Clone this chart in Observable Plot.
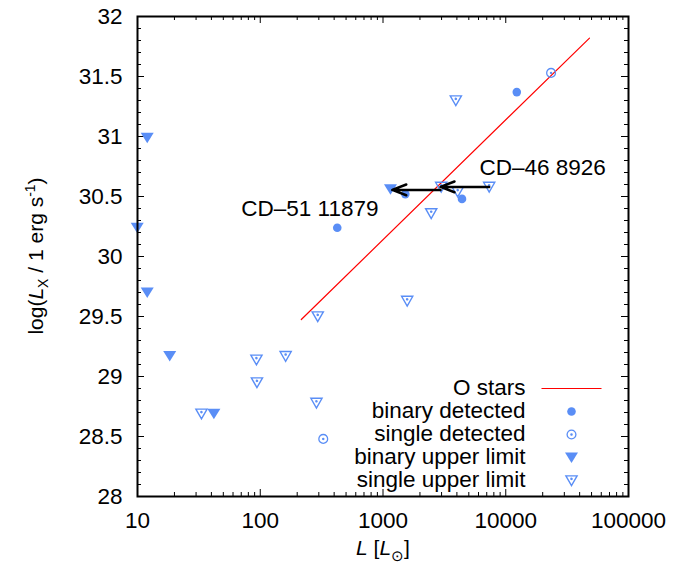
<!DOCTYPE html>
<html><head><meta charset="utf-8">
<script src="https://cdn.jsdelivr.net/npm/d3@7"></script>
<script src="https://cdn.jsdelivr.net/npm/@observablehq/plot@0.6"></script>
<style>body{margin:0;background:#fff} svg{display:block}</style>
</head><body><div id="chart"></div>
<script>
// ---- data ----
const binaryDetL  = [424, 1520, 4400, 12300];
const binaryDetLx = [30.24, 30.52, 30.48, 31.37];
const singleDetL  = [23400, 326];
const singleDetLx = [31.53, 28.48];
const binaryUpL   = [12.0, 9.95, 12.0, 18.3, 41.9, 1150];
const binaryUpLx  = [30.99, 30.24, 29.70, 29.17, 28.69, 30.56];
const singleUpL   = [2980, 4060, 7330, 2470, 3920, 294, 1574, 93.1, 161, 94, 33.2, 287];
const singleUpLx  = [30.58, 30.54, 30.58, 30.36, 31.30, 29.50, 29.63, 29.14, 29.17, 28.95, 28.69, 28.78];
const oStarsL  = [216, 48100];
const oStarsLx = [29.475, 31.82];
const arrowFromL = [7330, 2940];
const arrowToL   = [2940, 1190];
const arrowLx    = [30.58, 30.555];
const noteText = ["CD\u201351 11879", "CD\u201346 8926"];
const noteL    = [918, 6110];
const noteLx   = [30.40, 30.74];
const noteAnchor = ["end", "start"];
const xTickLabels = [10, 100, 1000, 10000, 100000];
const yTickLabels = [28, 28.5, 29, 29.5, 30, 30.5, 31, 31.5, 32];
const legendLabels = ["O stars", "binary detected", "single detected", "binary upper limit", "single upper limit"];

// ---- layout ----
const W = 697, H = 569, mL = 137, mR = 69, mT = 16, mB = 73;
const plotW = W - mL - mR, plotH = H - mT - mB;
const FONT = "'Liberation Sans', Arial, Helvetica, sans-serif";
const FS = 22.5;
const BLUE = "#5a8ef6";

const xMinor = [];
for (const d of [10, 100, 1000, 10000]) for (let k = 2; k <= 9; k++) xMinor.push(k * d);
const yMinor = d3.range(281, 320).filter(v => v % 5 !== 0).map(v => v / 10);

const pts = (xs, ys) => xs.map((x, i) => ({x, y: ys[i]}));

// custom symbols
const triDown = {draw(c){ c.moveTo(-6.5,-5); c.lineTo(6.5,-5); c.lineTo(0,5.5); c.closePath(); }};
const triDownDot = {draw(c){ c.moveTo(-5.6,-4.6); c.lineTo(5.6,-4.6); c.lineTo(0,5.2); c.closePath();
  c.moveTo(0.6,-1.6); c.arc(0,-1.6,0.6,0,2*Math.PI); }};
const circDot = {draw(c){ c.moveTo(4.4,0); c.arc(0,0,4.4,0,2*Math.PI); c.moveTo(0.6,0); c.arc(0,0,0.6,0,2*Math.PI); }};
const lineSym = {draw(c){ c.moveTo(-30,0); c.lineTo(30,0); }};

const legendRowDy = [-109, -86, -63, -40, -17];
const legendMarks = [];
legendLabels.forEach((lab, i) => {
  legendMarks.push(Plot.text([lab], {text: d => d, frameAnchor: "bottom-right", dx: -103, dy: legendRowDy[i],
    textAnchor: "end", lineAnchor: "middle", fontSize: FS, fill: "black"}));
});
const legSym = [
  {symbol: lineSym, stroke: "red", fill: "none", strokeWidth: 1.2},
  {symbol: "circle", r: 4.3, fill: BLUE, stroke: "none"},
  {symbol: circDot, stroke: BLUE, fill: "none", strokeWidth: 1.3},
  {symbol: triDown, fill: BLUE, stroke: "none"},
  {symbol: triDownDot, stroke: BLUE, fill: "none", strokeWidth: 1.4}
];
legSym.forEach((s, i) => {
  legendMarks.push(Plot.dot([0], {frameAnchor: "bottom-right", dx: -57, dy: legendRowDy[i] + 1, ...s}));
});

const chart = Plot.plot({
  width: W, height: H,
  marginLeft: mL, marginRight: mR, marginTop: mT, marginBottom: mB,
  style: {fontFamily: FONT, fontSize: FS + "px", background: "white", color: "black"},
  x: {type: "log", domain: [10, 100000], axis: null},
  y: {domain: [28, 32], axis: null},
  marks: [
    // ticks (inside, mirrored)
    Plot.tickX(xTickLabels, {x: d => d, insetTop: plotH - 7, stroke: "black"}),
    Plot.tickX(xTickLabels, {x: d => d, insetBottom: plotH - 7, stroke: "black"}),
    Plot.tickX(xMinor, {x: d => d, insetTop: plotH - 4, stroke: "black"}),
    Plot.tickX(xMinor, {x: d => d, insetBottom: plotH - 4, stroke: "black"}),
    Plot.tickY(yTickLabels, {y: d => d, insetLeft: plotW - 7, stroke: "black"}),
    Plot.tickY(yTickLabels, {y: d => d, insetRight: plotW - 7, stroke: "black"}),
    Plot.tickY(yMinor, {y: d => d, insetLeft: plotW - 4, stroke: "black"}),
    Plot.tickY(yMinor, {y: d => d, insetRight: plotW - 4, stroke: "black"}),
    // tick labels
    Plot.text(xTickLabels, {x: d => d, text: d => String(d), frameAnchor: "bottom", lineAnchor: "top", dy: 16, fontSize: FS, fill: "black"}),
    Plot.text(yTickLabels, {y: d => d, text: d => String(d), frameAnchor: "left", textAnchor: "end", dx: -15, fontSize: FS, fill: "black"}),
    // O-star relation
    Plot.line(pts(oStarsL, oStarsLx), {x: "x", y: "y", stroke: "red", strokeWidth: 1.2}),
    // data
    Plot.dot(pts(binaryDetL, binaryDetLx), {x: "x", y: "y", r: 4.3, fill: BLUE}),
    Plot.dot(pts(singleDetL, singleDetLx), {x: "x", y: "y", symbol: circDot, stroke: BLUE, fill: "none", strokeWidth: 1.3}),
    Plot.dot(pts(binaryUpL, binaryUpLx), {x: "x", y: "y", symbol: triDown, fill: BLUE, stroke: "none"}),
    Plot.dot(pts(singleUpL, singleUpLx), {x: "x", y: "y", symbol: triDownDot, stroke: BLUE, fill: "none", strokeWidth: 1.4}),
    // arrows
    Plot.arrow(arrowFromL.map((x1, i) => ({x1, x2: arrowToL[i], y: arrowLx[i]})),
      {x1: "x1", x2: "x2", y1: "y", y2: "y", stroke: "black", strokeWidth: 2.5, headLength: 9, headAngle: 42}),
    // annotations
    Plot.text(noteText.map((t, i) => ({t, x: noteL[i], y: noteLx[i], a: noteAnchor[i]})).filter(d => d.a === "end"),
      {x: "x", y: "y", text: "t", textAnchor: "end", lineAnchor: "middle", fontSize: FS, fill: "black"}),
    Plot.text(noteText.map((t, i) => ({t, x: noteL[i], y: noteLx[i], a: noteAnchor[i]})).filter(d => d.a === "start"),
      {x: "x", y: "y", text: "t", textAnchor: "start", lineAnchor: "middle", fontSize: FS, fill: "black"}),
    ...legendMarks,
    Plot.frame({stroke: "black", strokeWidth: 2})
  ]
});
document.getElementById("chart").appendChild(chart);

// axis titles with rich text
const svg = d3.select(chart);
const yl = svg.append("text").attr("transform", "translate(43,256) rotate(-90)")
  .attr("text-anchor", "middle").attr("font-size", 21).attr("font-family", FONT).attr("fill", "black");
yl.append("tspan").text("log(");
yl.append("tspan").attr("font-style", "italic").text("L");
yl.append("tspan").attr("font-size", 14).attr("dy", 5).text("X");
yl.append("tspan").attr("dy", -5).text(" / 1 erg s");
yl.append("tspan").attr("font-size", 14).attr("dy", -8).text("-1");
yl.append("tspan").attr("dy", 8).text(")");

const xl = svg.append("text").attr("x", 383).attr("y", 555)
  .attr("text-anchor", "middle").attr("font-size", 21).attr("font-family", FONT).attr("fill", "black");
xl.append("tspan").attr("font-style", "italic").text("L");
xl.append("tspan").text(" [");
xl.append("tspan").attr("font-style", "italic").text("L");
xl.append("tspan").attr("font-size", 15).attr("dy", 6).text("\u2299");
xl.append("tspan").attr("dy", -6).text("]");
</script>
</body></html>
